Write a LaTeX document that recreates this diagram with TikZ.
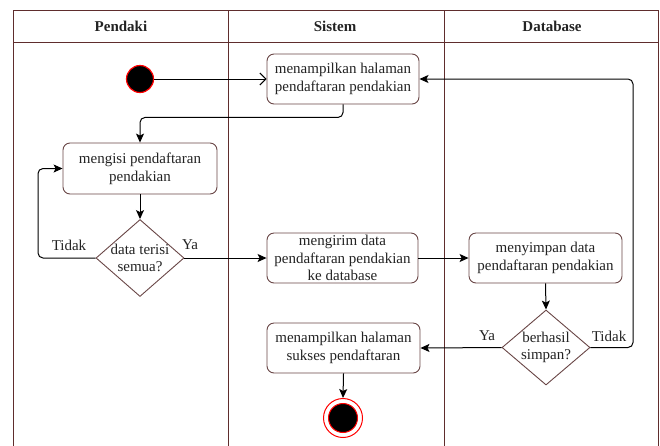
\documentclass[tikz,border=0pt]{standalone}
\usepackage{fontspec}
\setmainfont{Liberation Serif}
\usetikzlibrary{shapes.geometric,arrows.meta}
\definecolor{lane}{RGB}{95,45,45}
\definecolor{boxc}{RGB}{105,70,70}
\definecolor{txt}{RGB}{35,35,35}
\begin{document}
\begin{tikzpicture}[x=1pt,y=-1pt,
  every node/.style={font=\fontsize{15}{17.7}\selectfont, text=txt},
  lanel/.style={draw=lane, line width=1pt},
  hdr/.style={font=\fontsize{15}{17.7}\selectfont\bfseries},
  act/.style={draw=boxc, line width=0.9pt, rounded corners=7pt, fill=white, align=center, inner sep=0pt},
  dec/.style={draw=boxc, line width=0.9pt, diamond, fill=white, minimum width=88pt, minimum height=77pt, inner sep=0pt},
  dtext/.style={align=center, inner sep=0pt},
  flow/.style={draw=black, line width=1pt, rounded corners=5pt, -{Stealth[length=9pt,width=8pt,inset=2pt]}},
  openflow/.style={draw=black, line width=1pt, -{Straight Barb[length=6pt,width=12pt]}},
  lbl/.style={inner sep=0pt}
]
\useasboundingbox (0,0) rectangle (660,445);
% swimlanes
\draw[lanel] (13,447) -- (13,10) -- (658.5,10) -- (658.5,447);
\draw[lanel] (13,42) -- (658.5,42);
\draw[lanel] (228,10) -- (228,447);
\draw[lanel] (444,10) -- (444,447);
\node[hdr] (h1) at (121,26) {Pendaki};
\node[hdr] (h2) at (335,26) {Sistem};
\node[hdr] (h3) at (552,26) {Database};

% nodes
\node[circle, fill=black, draw=red, line width=1.2pt, minimum size=27pt, inner sep=0pt] (start) at (140,79) {};
\node[act, minimum width=152pt, minimum height=50pt] (box1) at (343,79) {menampilkan halaman\\pendaftaran pendakian};
\node[act, minimum width=154pt, minimum height=51pt] (box2) at (140,168.5) {mengisi pendaftaran\\pendakian};
\node[dec] (dec1) at (140,258) {};
\node[dtext] (dec1t) at (140,258) {data terisi\\semua?};
\node[act, minimum width=151pt, minimum height=50pt] (box3) at (342.5,258) {mengirim data\\pendaftaran pendakian\\ke database};
\node[act, minimum width=153pt, minimum height=50pt] (box4) at (545.5,258) {menyimpan data\\pendaftaran pendakian};
\node[dec, minimum height=75pt] (dec2) at (546,347.5) {};
\node[dtext] (dec2t) at (546,347.5) {berhasil\\simpan?};
\node[act, minimum width=153pt, minimum height=50pt] (box5) at (343.5,348) {menampilkan halaman\\sukses pendaftaran};
\node[circle, draw=red, line width=1pt, fill=white, minimum size=39pt, inner sep=0pt] (endo) at (343,418) {};
\node[circle, fill=black, draw=red, line width=1pt, minimum size=29pt, inner sep=0pt] (endi) at (343,418) {};

\coordinate (lf) at (38,210);
\coordinate (rt) at (633,200);

% connectors
\draw[openflow] (start) -- (box1.west);
\draw[flow] (box1.south) -- ++(0,13) -| (box2.north);
\draw[flow] (box2.south) -- (dec1.north);
\draw[flow] (dec1.west) -| (lf) |- (box2.west);
\draw[flow] (dec1.east) -- (box3.west);
\draw[flow] (box3.east) -- (box4.west);
\draw[flow] (box4.south) -- (dec2.north);
\draw[flow] (dec2.west) -- (box5.east);
\draw[flow] (dec2.east) -| (rt) |- (box1.east);
\draw[flow] (box5.south) -- (endo.north);

% labels
\node[lbl] (t1) at (69,245) {Tidak};
\node[lbl] (y1) at (190,245) {Ya};
\node[lbl] (y2) at (487,336) {Ya};
\node[lbl] (t2) at (609,336) {Tidak};
\end{tikzpicture}
\end{document}
